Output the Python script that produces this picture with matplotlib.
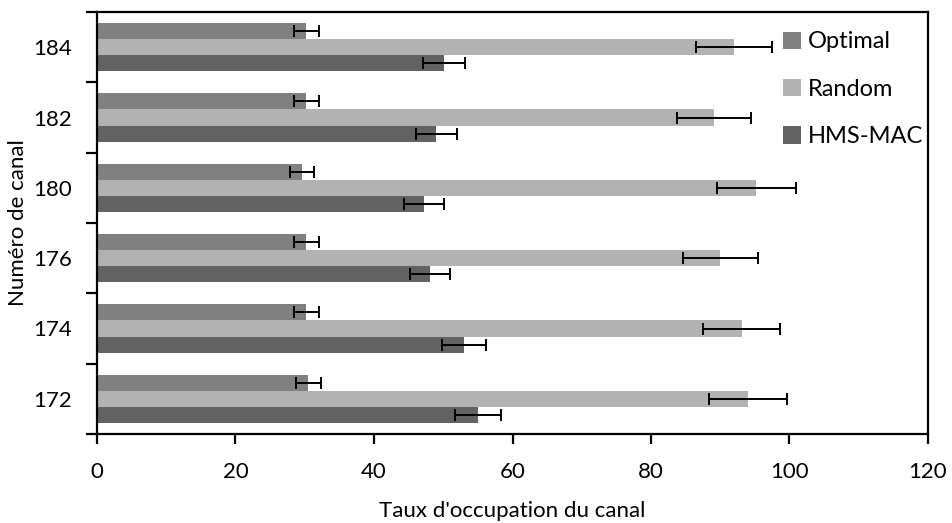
#Taux d'occupation par canal

import numpy as np
import matplotlib.pyplot as plt

plt.rcParams['font.family'] = ['Lato', 'DejaVu Sans']

#data (bottom to top)
canaux = ["172", "174", "176", "180", "182", "184"]
optimal = [30.5, 30.2, 30.2, 29.6, 30.2, 30.2]
optimal_err = [1.8, 1.8, 1.8, 1.8, 1.8, 1.8]
random_vals = [94.0, 93.1, 90.0, 95.2, 89.1, 92.0]
random_err = [5.6, 5.6, 5.4, 5.7, 5.4, 5.5]
hms_mac = [55.0, 53.0, 48.1, 47.2, 49.0, 50.1]
hms_err = [3.3, 3.2, 2.9, 2.9, 3.0, 3.0]

#colors
c_opt = "#808080"
c_rand = "#b2b2b2"
c_hms = "#626262"

fig = plt.figure(figsize=(9.53, 5.23), dpi=100)
ax = fig.add_axes([97/953, 1 - 434/523, 831/953, 422/523])

y = np.arange(len(canaux))
h = 0.23
err_style = dict(ecolor="black", elinewidth=1.4, capsize=4.5, capthick=1.4)

ax.barh(y + h, optimal, h, xerr=optimal_err, color=c_opt, label="Optimal", error_kw=err_style)
ax.barh(y, random_vals, h, xerr=random_err, color=c_rand, label="Random", error_kw=err_style)
ax.barh(y - h, hms_mac, h, xerr=hms_err, color=c_hms, label="HMS-MAC", error_kw=err_style)

ax.set_xlim(0, 120)
ax.set_ylim(-0.5, len(canaux) - 0.5)
ax.set_xticks(np.arange(0, 121, 20))

#labels on centres, ticks on the category boundaries
ax.set_yticks(y)
ax.set_yticklabels(canaux)
ax.set_yticks(np.arange(-0.5, len(canaux), 1), minor=True)
ax.tick_params(axis="y", which="major", length=0, pad=18, labelsize=16)
ax.tick_params(axis="y", which="minor", length=8, width=1.6, direction="out")
ax.tick_params(axis="x", length=7, width=1.6, direction="out", pad=13, labelsize=16)

for s in ax.spines.values():
    s.set_linewidth(1.6)

ax.set_xlabel("Taux d'occupation du canal", fontsize=16, labelpad=14)
ax.set_ylabel("Numéro de canal", fontsize=16, labelpad=4)

ax.legend(loc="upper left", bbox_to_anchor=(0.826, 0.954), frameon=False, fontsize=17,
          handlelength=0.75, handleheight=0.75, handletextpad=0.3, labelspacing=1.12,
          borderpad=0, borderaxespad=0)

plt.savefig("out.png", dpi=100)
